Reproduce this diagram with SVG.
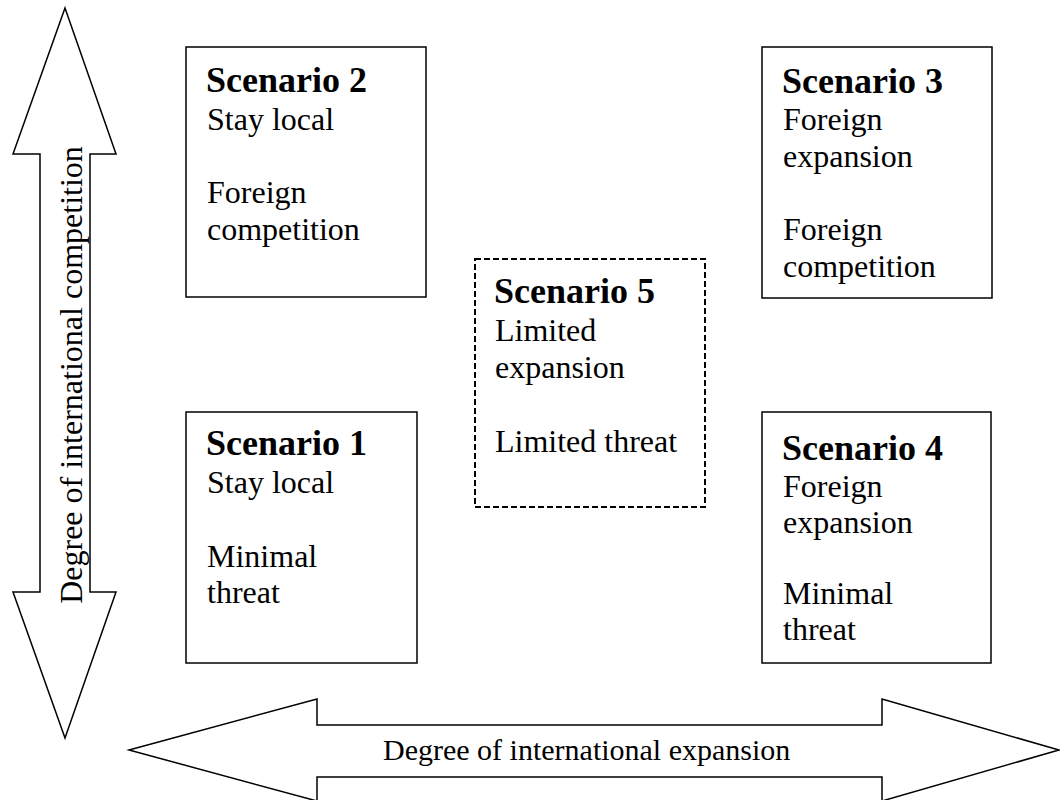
<svg xmlns="http://www.w3.org/2000/svg" width="1060" height="800" viewBox="0 0 1060 800">
<style>
.box{fill:#fff;stroke:#000;stroke-width:1.5}
.dash{fill:#fff;stroke:#000;stroke-width:2;stroke-dasharray:6 3}
.arrow{fill:#fff;stroke:#000;stroke-width:1.5;stroke-linejoin:miter}
.t{font-family:"Liberation Serif","Times New Roman",serif;font-size:32px;fill:#000}
.s{font-family:"Liberation Serif","Times New Roman",serif;font-size:30px;fill:#000}
.b{font-family:"Liberation Serif","Times New Roman",serif;font-size:36px;font-weight:bold;fill:#000}
</style>
<rect width="1060" height="800" fill="#fff"/>
<g id="connectors">
<polygon class="arrow" points="65,8 116,154 90,154 90,592 116,592 65,738 13,592 40,592 40,154 13,154"/>
<polygon class="arrow" points="129,750 317,699 317,725 882,725 882,699 1059,750 882,801 882,777 317,777 317,801"/>
<text class="t" transform="translate(82,375) rotate(-90)" text-anchor="middle">Degree of international competition</text>
<text class="s" x="383" y="760">Degree of international expansion</text>
</g>
<g id="scenario2">
<rect class="box" x="186" y="47" width="240" height="250"/>
<text class="b" x="206" y="92">Scenario 2</text>
<text class="t" x="207" y="130">Stay local</text>
<text class="t" x="207" y="203">Foreign</text>
<text class="t" x="207" y="240">competition</text>
</g>
<g id="scenario3">
<rect class="box" x="762" y="47" width="230" height="251"/>
<text class="b" x="782" y="93">Scenario 3</text>
<text class="t" x="783" y="130">Foreign</text>
<text class="t" x="783" y="167">expansion</text>
<text class="t" x="783" y="240">Foreign</text>
<text class="t" x="783" y="277">competition</text>
</g>
<g id="scenario1">
<rect class="box" x="186" y="412" width="231" height="251"/>
<text class="b" x="206" y="455">Scenario 1</text>
<text class="t" x="207" y="493">Stay local</text>
<text class="t" x="207" y="567">Minimal</text>
<text class="t" x="207" y="603">threat</text>
</g>
<g id="scenario4">
<rect class="box" x="762" y="412" width="229" height="251"/>
<text class="b" x="782" y="460">Scenario 4</text>
<text class="t" x="783" y="497">Foreign</text>
<text class="t" x="783" y="533">expansion</text>
<text class="t" x="783" y="604">Minimal</text>
<text class="t" x="783" y="640">threat</text>
</g>
<g id="scenario5">
<rect class="dash" x="475" y="259" width="230" height="248"/>
<text class="b" x="494" y="303">Scenario 5</text>
<text class="t" x="495" y="341">Limited</text>
<text class="t" x="495" y="378">expansion</text>
<text class="t" x="495" y="452">Limited threat</text>
</g>
</svg>
